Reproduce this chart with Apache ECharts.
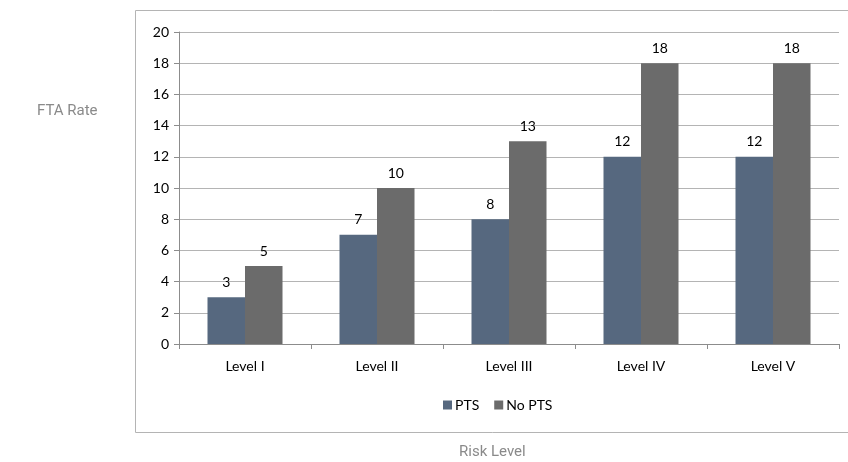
<!DOCTYPE html>
<html><head><meta charset="utf-8">
<script src="https://cdn.jsdelivr.net/npm/echarts@6/dist/echarts.min.js"></script>
<style>html,body{margin:0;padding:0;background:#fff}#c{width:848px;height:462px}</style>
</head><body><div id="c"></div>
<script>
var categories = ['Level I','Level II','Level III','Level IV','Level V'];
var ptsValues = [3, 7, 8, 12, 12];
var noPtsValues = [5, 10, 13, 18, 18];
var yTicks = {min: 0, max: 20, interval: 2};

var chart = echarts.init(document.getElementById('c'));
var font = 'Lato, sans-serif';
chart.setOption({
  animation: false,
  graphic: [
    {type:'rect', shape:{x:135.5, y:10.5, width:730, height:422}, style:{fill:'none', stroke:'#b4b4b4', lineWidth:1}, z:-1},
    {type:'text', left:37, top:104, style:{text:'FTA Rate', font:'normal 15px Roboto, sans-serif', fill:'#8a8a8a'}},
    {type:'text', left:459, top:445, style:{text:'Risk Level', font:'normal 15px Roboto, sans-serif', fill:'#8a8a8a'}}
  ],
  grid: {left:179, right:9, top:32, bottom:118, containLabel:false},
  legend: {
    bottom: 45, left: 438, itemWidth: 9, itemHeight: 9, itemGap: 15,
    icon: 'rect',
    textStyle: {fontFamily: font, fontSize: 14, color: '#000', padding:[0,0,0,-2]},
    data: ['PTS','No PTS']
  },
  xAxis: {
    type: 'category', data: categories,
    axisLine: {lineStyle: {color: '#8c8c8c'}},
    axisTick: {show: true, length: 5, lineStyle:{color:'#8c8c8c'}},
    axisLabel: {fontFamily: font, fontSize: 14, color: '#000', margin: 15}
  },
  yAxis: {
    type: 'value', min: yTicks.min, max: yTicks.max, interval: yTicks.interval,
    axisLine: {show: true, lineStyle: {color: '#8c8c8c'}},
    axisTick: {show: true, length: 5, lineStyle:{color:'#8c8c8c'}},
    splitLine: {lineStyle: {color: '#b4b4b4'}},
    axisLabel: {fontFamily: font, fontSize: 14, color: '#000', margin: 10}
  },
  series: [
    {name:'PTS', type:'bar', data: ptsValues, barWidth: 37.5, barGap: '0%', barCategoryGap:'43%',
     itemStyle:{color:'#56687f'},
     label:{show:true, position:'top', distance:8, fontFamily: font, fontSize: 14, color:'#000'}},
    {name:'No PTS', type:'bar', data: noPtsValues, barWidth: 37.5, barGap: '0%',
     itemStyle:{color:'#6b6b6b'},
     label:{show:true, position:'top', distance:8, fontFamily: font, fontSize: 14, color:'#000'}}
  ]
});
</script></body></html>
